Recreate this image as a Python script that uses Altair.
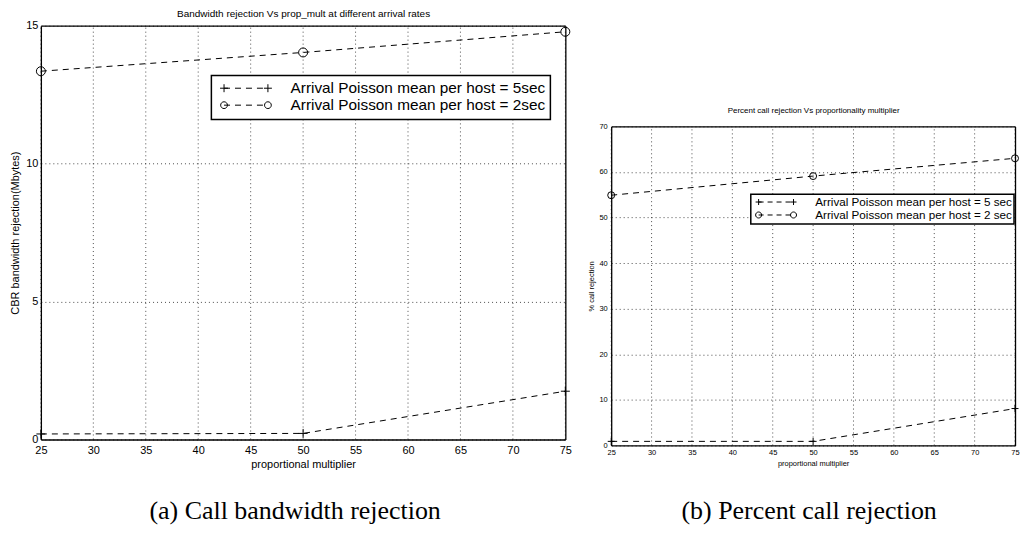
import altair as alt
import pandas as pd

# ---------------- data ----------------
prop_mult = [25, 50, 75]
bw_5sec = [0.2, 0.22, 1.75]
bw_2sec = [13.35, 14.03, 14.78]
pct_5sec = [0.9, 0.9, 8.1]
pct_2sec = [54.9, 59.1, 63.0]

left_labels = ["Arrival Poisson mean per host = 5sec",
               "Arrival Poisson mean per host = 2sec"]
right_labels = ["Arrival Poisson mean per host = 5 sec",
                "Arrival Poisson mean per host = 2 sec"]

x_ticks = [25, 30, 35, 40, 45, 50, 55, 60, 65, 70, 75]
left_y_ticks = [0, 5, 10, 15]
right_y_ticks = [0, 10, 20, 30, 40, 50, 60, 70]

left_title = "Bandwidth rejection Vs prop_mult at different arrival rates"
right_title = "Percent call rejection Vs proportionality multiplier"
left_ytitle = "CBR bandwidth rejection(Mbytes)"
right_ytitle = "% call rejection"
xtitle = "proportional multiplier"
left_caption = "(a) Call bandwidth rejection"
right_caption = "(b) Percent call rejection"

SANS = "Liberation Sans"
SERIF = "Liberation Serif"
PLUS = "M-1,0H1M0,-1V1"


def legend_path(kind, span, r, dash, gap):
    parts = []
    for cx in (0, span):
        if kind == "plus":
            parts.append(f"M{cx - r},0H{cx + r}M{cx},{-r}V{r}")
        else:
            parts.append(f"M{cx + r},0A{r},{r} 0 1,1 {cx - r},0A{r},{r} 0 1,1 {cx + r},0")
    x = 0.0
    while x < span:
        parts.append(f"M{round(x, 3)},0H{round(min(x + dash, span), 3)}")
        x += dash + gap
    return "".join(parts)


def make_df(a, b, labels):
    return pd.DataFrame({
        "x": prop_mult + prop_mult,
        "y": a + b,
        "series": [labels[0]] * len(a) + [labels[1]] * len(b),
    })


def panel(df, labels, width, height, yrange, ydomain, yticks, title, ytitle,
          fs_tick, fs_title, fs_axtitle, marker_size, legend, legend_paths, top_offset,
          top_pad, ylab_pad, ytitle_pad, xlab_pad, xtitle_pad, caption, cap_offset, cap_dx):
    xscale = alt.Scale(domain=[25, 75], nice=False, zero=False)
    yscale_args = dict(domain=ydomain, nice=False, zero=False)
    if yrange is not None:
        yscale_args["range"] = yrange
    yscale = alt.Scale(**yscale_args)

    common = dict(domainColor="black", domainWidth=1.3, labelFont=SANS,
                  titleFont=SANS, labelColor="black", titleColor="black",
                  titleFontWeight="normal")

    grid = alt.Chart(pd.DataFrame({"x": x_ticks})).mark_rule(
        strokeDash=[1, 3], color="black", opacity=0.7, strokeWidth=1).encode(
        x=alt.X("x:Q", scale=xscale, axis=None),
        y=alt.YDatum(ydomain[0], scale=yscale, axis=None),
        y2=alt.Y2Datum(ydomain[1]),
    )

    base = alt.Chart(df)
    lines = base.mark_line(strokeDash=[6, 5], strokeWidth=1, color="black").encode(
        x=alt.X("x:Q", scale=xscale, axis=alt.Axis(
            values=x_ticks, grid=False, ticks=False, tickSize=0, labelFlush=False,
            labelFontSize=fs_tick, labelPadding=xlab_pad, title=xtitle,
            titleFontSize=fs_axtitle, titlePadding=xtitle_pad, **common)),
        y=alt.Y("y:Q", scale=yscale, axis=alt.Axis(
            values=yticks, grid=True, gridDash=[1, 3], gridColor="black",
            gridOpacity=0.7, ticks=False, tickSize=0, labelFlush=False,
            labelFontSize=fs_tick, labelPadding=ylab_pad, title=ytitle,
            titleFontSize=fs_axtitle, titlePadding=ytitle_pad, **common)),
        detail="series:N",
    )
    points = base.mark_point(filled=False, strokeWidth=1, size=marker_size,
                             color="black", opacity=1).encode(
        x=alt.X("x:Q", scale=xscale, axis=alt.Axis(
            orient="top", labels=False, ticks=False, grid=False, offset=top_offset,
            title=title, titleFontSize=fs_title, titlePadding=top_pad, **common)),
        y=alt.Y("y:Q", scale=yscale, axis=alt.Axis(
            orient="right", labels=False, ticks=False, grid=False, title=None, **common)),
        shape=alt.Shape("series:N", scale=alt.Scale(domain=labels, range=[PLUS, "circle"]),
                        legend=None),
    )
    # legend-only layer: no marks drawn (filtered out), legend from the explicit domain
    legend_layer = base.mark_point(filled=False, strokeWidth=1, color="black",
                                   opacity=0).encode(
        x=alt.X("x:Q", scale=xscale, axis=None),
        y=alt.Y("y:Q", scale=yscale, axis=None),
        shape=alt.Shape("series:N", scale=alt.Scale(domain=labels, range=legend_paths),
                        legend=legend),
    ).transform_filter("datum.x < 0")
    return alt.layer(grid, lines, points, legend_layer).resolve_axis(
        x="independent", y="independent"
    ).resolve_scale(shape="independent").properties(
        width=width, height=height,
        title=alt.TitleParams(caption, orient="bottom", anchor="middle", font=SERIF,
                              fontSize=26, fontWeight="normal", color="black",
                              offset=cap_offset, dx=cap_dx),
    )


left_paths = [legend_path("plus", 11, 1, 1.5, 1.25), legend_path("circle", 11, 0.85, 1.5, 1.25)]
right_paths = [legend_path("plus", 10, 0.86, 1.43, 1.14), legend_path("circle", 10, 0.86, 1.43, 1.14)]

left_legend = alt.Legend(
    orient="none", legendX=171, legendY=50, title=None, strokeColor="black",
    fillColor="white", padding=5, cornerRadius=0, labelFont=SANS, labelFontSize=15.4,
    labelColor="black", labelOffset=59, labelLimit=500, symbolSize=64, rowPadding=0,
    symbolStrokeWidth=1, symbolOpacity=1, symbolStrokeColor="black",
    symbolFillColor="transparent")

right_legend = alt.Legend(
    orient="none", legendX=140, legendY=169, title=None, strokeColor="black",
    fillColor="white", padding=2, cornerRadius=0, labelFont=SANS, labelFontSize=11.7,
    labelColor="black", labelOffset=51, labelLimit=500, symbolSize=49, rowPadding=0,
    symbolStrokeWidth=1, symbolOpacity=1, symbolStrokeColor="black",
    symbolFillColor="transparent")

left = panel(make_df(bw_5sec, bw_2sec, left_labels), left_labels, 526, 415, None,
             [0, 15], left_y_ticks, left_title, left_ytitle, 11, 10, 11, 81,
             left_legend, left_paths, 0, 7, 3, 5, 5, 3, left_caption, 29, -8)

right = panel(make_df(pct_5sec, pct_2sec, right_labels), right_labels, 405, 421, [421, 101],
              [0, 70], right_y_ticks, right_title, right_ytitle, 7.5, 8, 7.5, 49,
              right_legend, right_paths, -101, 12, 4, 3.5, 3, 4, right_caption, 31, -4)

chart = alt.hconcat(left, right, spacing=46, bounds="flush").resolve_scale(
    x="independent", y="independent", shape="independent"
).resolve_legend(shape="independent").properties(
    padding={"left": 9, "top": 8, "right": 0, "bottom": 0},
    background="white",
).configure_view(strokeWidth=0).configure_legend(strokeWidth=1.5)

chart.save("out.html", embed_options={"renderer": "svg", "actions": False})
